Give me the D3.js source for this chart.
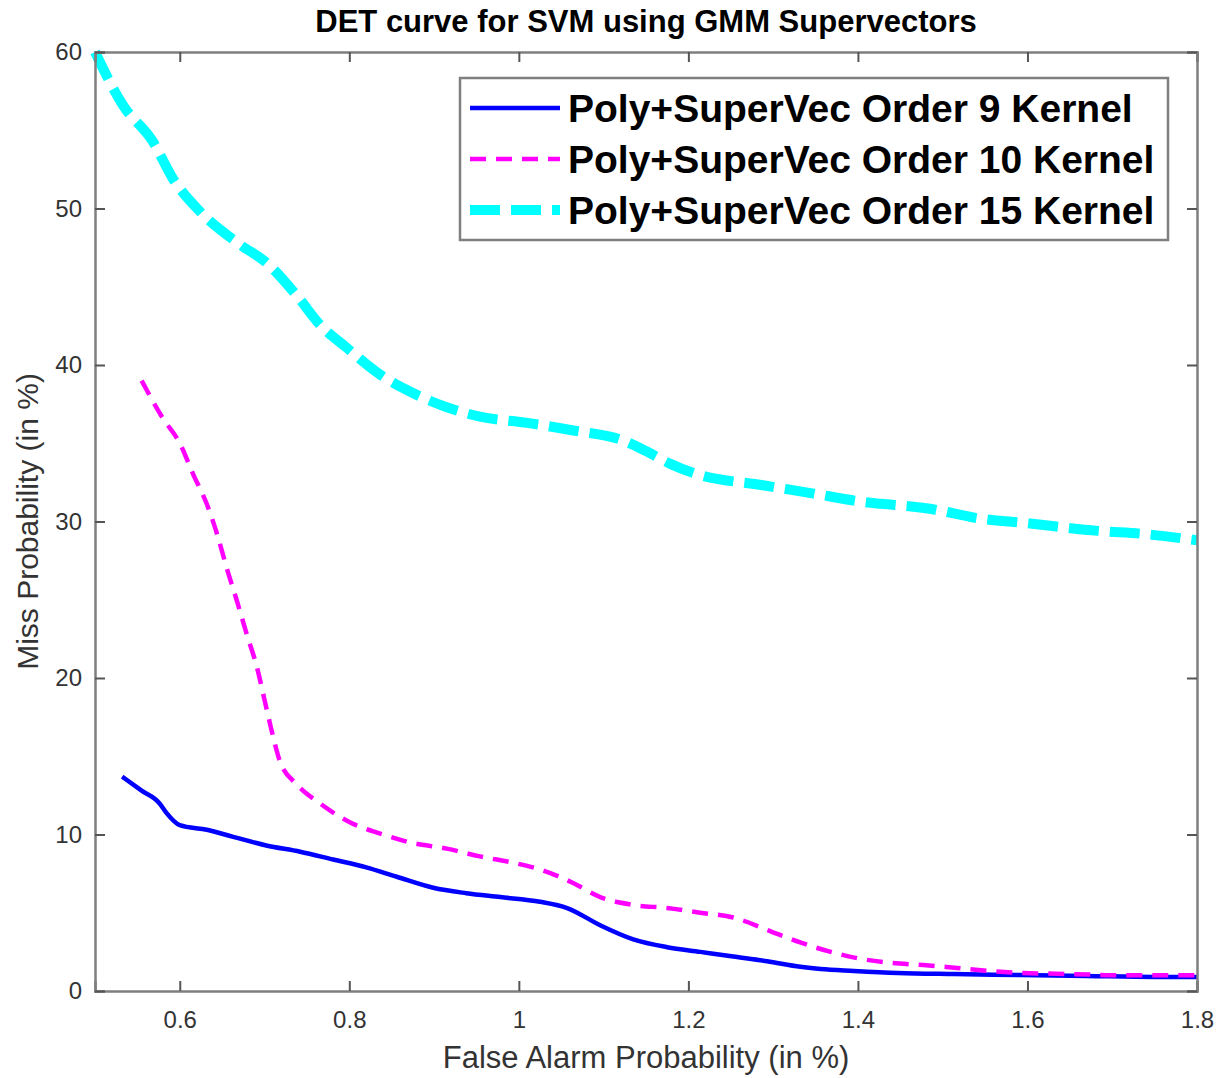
<!DOCTYPE html>
<html>
<head>
<meta charset="utf-8">
<script src="https://cdn.jsdelivr.net/npm/d3@7"></script>
<style>
  body { margin: 0; background: #fff; }
  text { font-family: "Liberation Sans", Arial, Helvetica, sans-serif; }
</style>
</head>
<body>
<div id="chart"></div>
<script>
// DET curve data
const xTicks = [0.6, 0.8, 1, 1.2, 1.4, 1.6, 1.8];
const yTicks = [0, 10, 20, 30, 40, 50, 60];

const order9 = [
  [0.532, 13.7], [0.555, 12.8], [0.576, 12.0], [0.584, 11.4], [0.6, 10.6],
  [0.632, 10.3], [0.663, 9.85], [0.702, 9.3], [0.742, 8.9], [0.781, 8.4],
  [0.82, 7.9], [0.856, 7.3], [0.899, 6.6], [0.938, 6.25], [0.978, 6.0],
  [1.025, 5.7], [1.057, 5.3], [1.096, 4.2], [1.135, 3.3], [1.175, 2.8],
  [1.214, 2.5], [1.253, 2.2], [1.293, 1.9], [1.332, 1.55], [1.356, 1.4],
  [1.395, 1.28], [1.447, 1.15], [1.513, 1.08], [1.592, 1.02], [1.67, 0.96],
  [1.749, 0.9], [1.8, 0.9]
];

const order10 = [
  [0.555, 39.0], [0.58, 36.6], [0.6, 35.0], [0.616, 33.0], [0.632, 31.1],
  [0.644, 29.2], [0.655, 27.1], [0.667, 25.0], [0.679, 22.8], [0.691, 20.7],
  [0.70, 18.6], [0.709, 16.5], [0.718, 14.7], [0.738, 13.2], [0.765, 12.0],
  [0.80, 10.8], [0.84, 10.0], [0.871, 9.5], [0.915, 9.1], [0.954, 8.6],
  [0.993, 8.2], [1.029, 7.7], [1.064, 6.9], [1.096, 6.0], [1.135, 5.5],
  [1.175, 5.3], [1.214, 5.0], [1.253, 4.7], [1.293, 3.9], [1.332, 3.1],
  [1.368, 2.5], [1.399, 2.1], [1.438, 1.8], [1.477, 1.66], [1.517, 1.47],
  [1.556, 1.28], [1.595, 1.15], [1.634, 1.1], [1.673, 1.05], [1.712, 1.0],
  [1.8, 1.0]
];

const order15 = [
  [0.5, 60.0], [0.533, 56.6], [0.568, 54.3], [0.592, 51.9], [0.624, 49.8],
  [0.671, 47.7], [0.703, 46.5], [0.74, 44.3], [0.765, 42.6], [0.797, 41.1],
  [0.836, 39.4], [0.868, 38.4], [0.915, 37.3], [0.954, 36.7], [1.01, 36.3],
  [1.066, 35.8], [1.122, 35.2], [1.15, 34.5], [1.178, 33.7], [1.206, 33.1],
  [1.29, 32.3], [1.346, 31.8], [1.40, 31.3], [1.487, 30.8], [1.542, 30.2],
  [1.598, 29.9], [1.683, 29.4], [1.738, 29.2], [1.8, 28.8]
];

const seriesNames = [
  'Poly+SuperVec Order 9 Kernel',
  'Poly+SuperVec Order 10 Kernel',
  'Poly+SuperVec Order 15 Kernel'
];

const series = [
  { name: seriesNames[0], values: order9, color: '#0000ff', width: 4.5, dash: null },
  { name: seriesNames[1], values: order10, color: '#ff00ff', width: 4.5, dash: '16,10' },
  { name: seriesNames[2], values: order15, color: '#00ffff', width: 10, dash: '30,11' }
];

const width = 1227;
const height = 1078;
const margin = { top: 52, right: 30, bottom: 87, left: 95 };
const innerW = width - margin.left - margin.right;
const innerH = height - margin.top - margin.bottom;

const svg = d3.select('#chart')
  .append('svg')
  .attr('width', width)
  .attr('height', height);

const g = svg.append('g')
  .attr('transform', `translate(${margin.left},${margin.top})`);

const x = d3.scaleLinear().domain([0.5, 1.8]).range([0, innerW]);
const y = d3.scaleLinear().domain([0, 60]).range([innerH, 0]);

// clip lines to the axes box
g.append('clipPath').attr('id', 'clip')
  .append('rect').attr('x', -6).attr('y', -6).attr('width', innerW + 6).attr('height', innerH + 6);

const line = d3.line()
  .x(d => x(d[0]))
  .y(d => y(d[1]))
  .curve(d3.curveMonotoneX);

series.forEach(s => {
  g.append('path')
    .datum(s.values)
    .attr('clip-path', 'url(#clip)')
    .attr('fill', 'none')
    .attr('stroke', s.color)
    .attr('stroke-width', s.width)
    .attr('stroke-dasharray', s.dash)
    .attr('stroke-linejoin', 'round')
    .attr('d', line);
});

// axes: ticks point inward, mirrored on top and right
const tickLen = 10;
const axisColor = '#7f7f7f';
const labelColor = '#333';

const xAxis = g.append('g')
  .attr('transform', `translate(0,${innerH})`)
  .call(d3.axisBottom(x).tickValues(xTicks).tickSize(-tickLen).tickPadding(20).tickFormat(d3.format('')));
const xTop = g.append('g')
  .call(d3.axisTop(x).tickValues(xTicks).tickSize(-tickLen).tickFormat(''));
const yAxis = g.append('g')
  .call(d3.axisLeft(y).tickValues(yTicks).tickSize(-tickLen).tickPadding(13).tickFormat(d3.format('')));
const yRight = g.append('g')
  .attr('transform', `translate(${innerW},0)`)
  .call(d3.axisRight(y).tickValues(yTicks).tickSize(-tickLen).tickFormat(''));

[xAxis, xTop, yAxis, yRight].forEach(a => {
  a.select('.domain').attr('stroke', axisColor).attr('stroke-width', 2.5);
  a.selectAll('.tick line').attr('stroke', '#555').attr('stroke-width', 2);
  a.selectAll('.tick text')
    .attr('fill', labelColor)
    .attr('font-size', 24);
});

// title and axis labels
svg.append('text')
  .attr('x', margin.left + innerW / 2)
  .attr('y', 32)
  .attr('text-anchor', 'middle')
  .attr('font-size', 31)
  .attr('font-weight', 'bold')
  .attr('fill', '#000')
  .text('DET curve for SVM using GMM Supervectors');

svg.append('text')
  .attr('x', margin.left + innerW / 2)
  .attr('y', 1068)
  .attr('text-anchor', 'middle')
  .attr('font-size', 31)
  .attr('fill', labelColor)
  .text('False Alarm Probability (in %)');

svg.append('text')
  .attr('transform', `translate(38,${margin.top + innerH / 2}) rotate(-90)`)
  .attr('text-anchor', 'middle')
  .attr('font-size', 30)
  .attr('fill', labelColor)
  .text('Miss Probability (in %)');

// legend
const legend = svg.append('g').attr('transform', 'translate(460,78)');
legend.append('rect')
  .attr('width', 708)
  .attr('height', 162)
  .attr('fill', '#fff')
  .attr('stroke', axisColor)
  .attr('stroke-width', 2.5);

series.forEach((s, i) => {
  const ly = 30 + i * 51;
  legend.append('line')
    .attr('x1', 10).attr('x2', 100)
    .attr('y1', ly).attr('y2', ly)
    .attr('stroke', s.color)
    .attr('stroke-width', s.width)
    .attr('stroke-dasharray', s.dash);
  legend.append('text')
    .attr('x', 108)
    .attr('y', ly + 14)
    .attr('font-size', 39)
    .attr('font-weight', 'bold')
    .attr('fill', '#000')
    .text(s.name);
});
</script>
</body>
</html>
